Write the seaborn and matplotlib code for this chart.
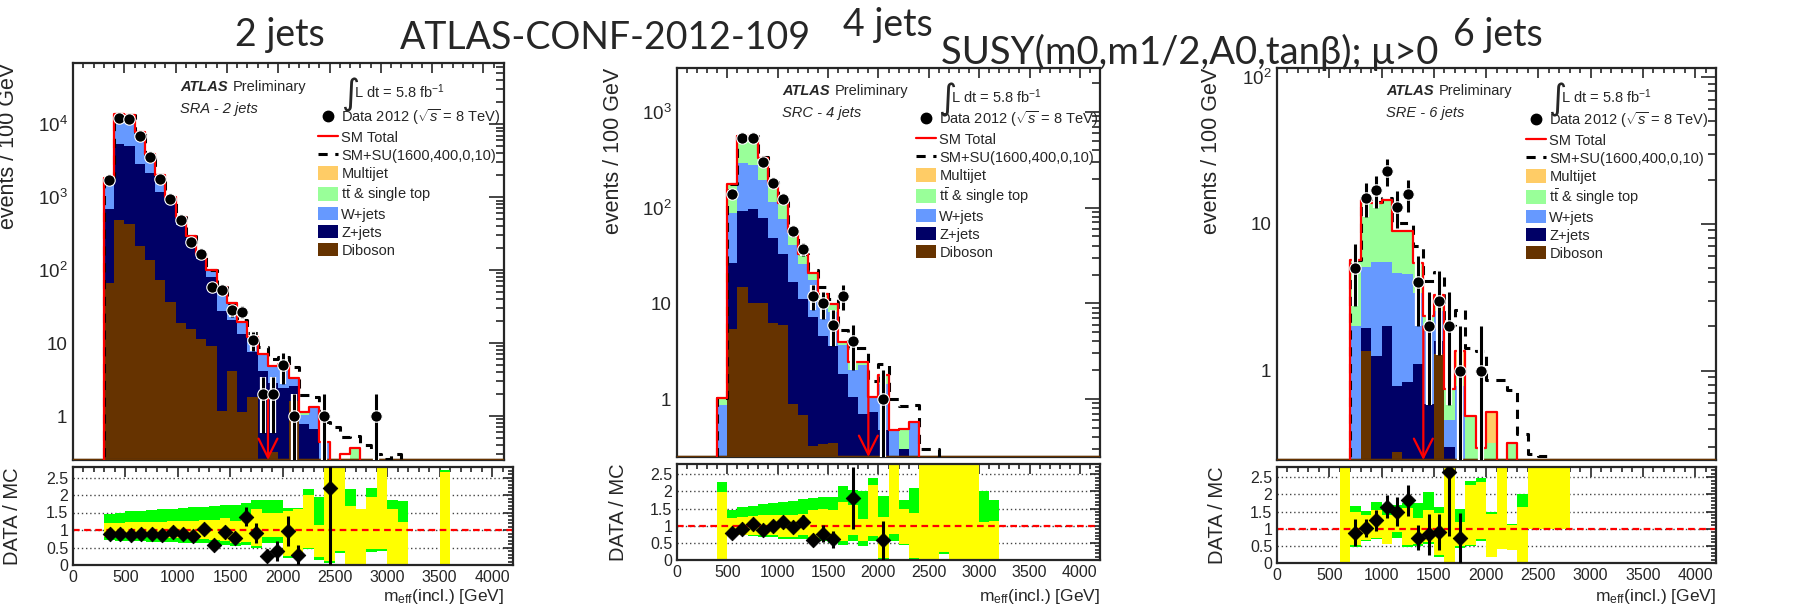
import numpy as np
import pandas as pd
import matplotlib
matplotlib.use("Agg")
import matplotlib.pyplot as plt
import seaborn as sns
from matplotlib.lines import Line2D
from matplotlib.patches import Patch
from matplotlib.ticker import MultipleLocator, LogLocator, NullFormatter, FuncFormatter

nan = np.nan
BIN = 100

# ---------------- data: SRA - 2 jets (bins start at 300 GeV) ----------------
p1_start = 300
p1_diboson = [67, 486, 430, 214, 137, 74, 37, 19, 15.8, 11.5, 9, 1.17, 4.2, 1.13, 1.8, 0, 0.32, 0, 1.6,
              0, 0, 0, 0, 0, 0, 0, 0, 0, 0, 0, 0, 0, 0]
p1_zjets = [623, 4884, 4670, 2636, 2033, 1116, 783, 394, 224, 132.5, 72, 26.8, 16.4, 12.4, 5.8, 4.2, 2.5, 2.4,
            0.95, 0.78, 0.67, 0, 0, 0, 0, 0, 0, 0, 0, 0, 0, 0, 0]
p1_wjets = [1000, 8080, 8050, 4700, 1650, 770, 160, 115, 44, 18, 16.5, 29.5, 13.4, 5.5, 4.3, 2.85, 1.9, 2.7,
            0.65, 0.24, 0.66, 0.44, 0, 0, 0, 0, 0, 0, 0, 0, 0, 0, 0]
p1_ttbar = [40, 250, 250, 150, 80, 40, 20, 12, 6, 4, 2.5, 1.5, 1, 0.5, 0.3, 0.15, 0.1, 0.1, 0.1, 0.12,
            0, 0, 0, 0, 0.37, 0, 0, 0, 0, 0, 0, 0, 0]
p1_multijet = [0] * 33
p1_total = [1820, 13700, 13400, 7700, 3900, 2000, 1000, 540, 290, 166, 100, 59, 35, 19.5, 12.2, 7.2, 4.8, 5.2,
            3.3, 1.13, 1.33, 0.44, 0.2, 0.3, 0.37, 0, 0, 0, 0, 0, 0, 0, 0]
p1_su = [1820, 13700, 13400, 7700, 3900, 2000, 1000, 540, 290, 166, 100, 59, 35, 20.5, 13.8, 8.9, 6.1, 6.5,
         4.7, 1.96, 1.8, 0.83, 0.7, 0.51, 0.54, 0.4, 0.3, 0.26, 0.3, 0, 0, 0, 0]
p1_data = [1740, 12300, 11800, 7000, 3500, 1760, 930, 490, 240, 166, 58, 53, 28, 27, 11, 2, 2, 5, 1,
           0, 0, 1, 0, 0, 0, 0, 1, 0, 0, 0, 0, 0, 0]
p1_ratio = [0.90, 0.90, 0.87, 0.88, 0.88, 0.87, 0.94, 0.90, 0.84, 1.04, 0.57, 0.93, 0.78, 1.38, 0.92, 0.26,
            0.41, 0.97, 0.29, nan, nan, 2.21] + [nan] * 11
p1_yel_lo = [0.80, 0.80, 0.79, 0.79, 0.79, 0.78, 0.78, 0.77, 0.76, 0.75, 0.72, 0.70, 0.64, 0.66, 0.55, 0.80,
             0.80, 0.25, 0.25, 0.50, 0.22, 0.12, 0.40, 0.00, 0.00, 0.45, 0.45, 0.00, 0.00, nan, nan, nan, 0.00]
p1_yel_hi = [1.20, 1.21, 1.22, 1.22, 1.23, 1.24, 1.25, 1.26, 1.27, 1.30, 1.30, 1.33, 1.25, 1.40, 1.60, 1.50,
             1.50, 1.55, 1.60, 2.00, 1.14, 2.80, 2.80, 1.70, 1.60, 1.93, 2.80, 1.60, 1.22, nan, nan, nan, 2.65]
p1_grn_lo = [0.72, 0.70, 0.69, 0.68, 0.67, 0.66, 0.65, 0.64, 0.63, 0.62, 0.58, 0.57, 0.55, 0.57, 0.50, 0.62,
             0.62, 0.20, 0.20, 0.47, 0.15, 0.05, 0.35, 0.00, 0.00, 0.38, 0.40, 0.00, 0.00, nan, nan, nan, 0.00]
p1_grn_hi = [1.45, 1.50, 1.53, 1.55, 1.57, 1.59, 1.61, 1.63, 1.65, 1.67, 1.68, 1.70, 1.72, 1.78, 1.85, 1.85,
             1.85, 1.62, 1.62, 2.17, 1.95, 2.80, 2.80, 2.17, 1.60, 2.20, 2.80, 1.85, 1.83, nan, nan, nan, 2.72]

# ---------------- data: SRC - 4 jets (bins start at 400 GeV) ----------------
p2_start = 400
p2_diboson = [0, 5.4, 14.8, 10.2, 10.2, 6.3, 5.9, 0.88, 0.675, 0.32, 0.34, 0.35] + [0] * 16
p2_zjets = [0, 21, 77, 87, 68.4, 42.2, 27.1, 15.8, 10.5, 6.9, 4.26, 3.23, 1.84, 1.05, 0.70, 0.73, 0.47, 0,
            0.30, 0] + [0] * 8
p2_wjets = [0.86, 61.6, 201, 184, 117, 65.5, 43.7, 23.7, 14.4, 10.5, 5.3, 4.52, 1.8, 0.97, 1.55, 0.32, 0.98,
            0.47, 0, 0.58] + [0] * 8
p2_ttbar = [0.17, 87, 264, 276, 137, 67, 35.3, 15.3, 6.9, 3.1, 2.7, 1.86, 0.3, 0.42, 0.19, 0, 0.32, 0,
            0.19, 0] + [0] * 8
p2_multijet = [0] * 28
p2_total = [1.03, 175, 557, 557, 333, 181, 112, 55.7, 32.5, 20.8, 12.6, 9.96, 3.94, 2.44, 2.44, 1.05, 1.77,
            0.47, 0.49, 0.58] + [0] * 8
p2_su = [1.03, 175, 560, 560, 340, 185, 115, 57, 33, 22.4, 14.8, 11.0, 5.3, 3.4, 3.4, 1.55, 2.3, 1.0, 0.85,
         0.87, 0.3, 0.3] + [0] * 6
p2_data = [0, 139, 531, 531, 302, 182, 123, 57, 37, 12, 10, 6, 12, 4, 0, 0, 1, 0] + [0] * 10
p2_ratio = [nan, 0.80, 0.90, 1.05, 0.88, 0.99, 1.10, 0.97, 1.12, 0.58, 0.77, 0.60, nan, 1.80, nan, nan,
            0.57] + [nan] * 11
p2_yel_lo = [0.00, 0.75, 0.74, 0.74, 0.73, 0.72, 0.68, 0.67, 0.72, 0.68, 0.65, 0.60, 0.55, 0.72, 0.55, 0.70,
             0.05, 0.75, 0.48, 0.05, 0.00, 0.00, 0.22, 0.00, 0.00, 0.00, 0.00, 0.00]
p2_yel_hi = [1.97, 1.22, 1.25, 1.27, 1.30, 1.30, 1.30, 1.32, 1.35, 1.45, 1.48, 1.45, 1.70, 1.60, 1.20, 2.20,
             1.25, 2.80, 1.50, 1.38, 2.80, 2.80, 2.80, 2.80, 2.80, 2.80, 1.10, 1.15]
p2_grn_lo = [0.00, 0.72, 0.72, 0.70, 0.68, 0.66, 0.60, 0.60, 0.62, 0.58, 0.55, 0.50, 0.45, 0.55, 0.42, 0.55,
             0.00, 0.55, 0.45, 0.00, 0.00, 0.00, 0.17, 0.00, 0.00, 0.00, 0.00, 0.00]
p2_grn_hi = [2.27, 1.47, 1.55, 1.58, 1.62, 1.65, 1.68, 1.72, 1.78, 1.82, 1.85, 1.83, 2.15, 2.05, 2.02, 2.40,
             1.88, 2.80, 1.75, 2.10, 2.80, 2.80, 2.80, 2.80, 2.80, 2.80, 2.00, 1.75]

# ---------------- data: SRE - 6 jets (bins start at 600 GeV) ----------------
p3_start = 600
p3_diboson = [0, 0, 1.35, 0, 0, 0.28, 0, 0, 0, 1.3] + [0] * 12
p3_zjets = [0, 0, 0.59, 1.25, 2.0, 0.51, 0.84, 1.11, 0.59, 0.30, 0.30] + [0] * 11
p3_wjets = [0, 2.0, 3.16, 4.25, 3.5, 3.81, 3.72, 2.26, 1.26, 0.96, 0.16, 0.78] + [0] * 10
p3_ttbar = [0, 3.7, 9.5, 8.3, 9.1, 4.3, 4.34, 2.03, 0.52, 0.72, 0.29, 0.18, 0.49, 0.295, 0.32, 0, 0.32] + [0] * 5
p3_multijet = [0] * 11 + [0.40, 0, 0, 0.205] + [0] * 7
p3_total = [0, 5.7, 14.6, 13.8, 14.6, 8.9, 8.9, 5.4, 2.37, 3.28, 0.75, 1.36, 0.49, 0.295, 0.525, 0.2,
            0.32, 0, 0, 0, 0, 0]
p3_su = [0, 5.7, 14.6, 14.0, 15.0, 10.1, 10.1, 7.0, 4.1, 4.66, 2.05, 2.6, 1.42, 1.35, 0.86, 0.86, 0.74,
         0.37, 0.27, 0.26, 0, 0]
p3_data = [0, 5, 15, 17, 23, 13, 16, 4, 2, 3, 2, 1, 0, 1] + [0] * 8
p3_ratio = [nan, 0.88, 1.03, 1.25, 1.64, 1.50, 1.83, 0.73, 0.84, 0.90, 2.66, 0.73] + [nan] * 10
p3_yel_lo = [0.00, 0.52, 0.68, 0.74, 0.55, 0.90, 0.52, 0.55, 0.60, 0.22, 0.00, 0.50, 0.52, 0.70, 0.18, 0.40,
             0.38, 0.00, 1.00, 1.00, 1.00, 1.00]
p3_yel_hi = [2.80, 1.50, 1.40, 1.55, 1.40, 1.53, 1.60, 1.30, 1.55, 1.45, 2.80, 1.20, 2.28, 2.35, 1.42, 2.80,
             1.12, 1.62, 2.80, 2.80, 2.80, 2.80]
p3_grn_lo = [0.00, 0.48, 0.65, 0.70, 0.55, 0.72, 0.48, 0.50, 0.55, 0.18, 0.00, 0.45, 0.50, 0.65, 0.18, 0.40,
             0.38, 0.00, 1.00, 1.00, 1.00, 1.00]
p3_grn_hi = [2.80, 1.67, 1.52, 1.77, 1.67, 1.70, 1.75, 1.75, 2.08, 1.62, 2.80, 1.57, 2.38, 2.48, 1.50, 2.80,
             1.14, 2.02, 2.80, 2.80, 2.80, 2.80]

cuts = [1900, 1900, 1400]
region_labels = ["SRA - 2 jets", "SRC - 4 jets", "SRE - 6 jets"]
process_names = ["Multijet", "t$\\bar{\\rm t}$ & single top", "W+jets", "Z+jets", "Diboson"]
legend_labels = ["Data 2012 ($\\sqrt{s}$ = 8 TeV)", "SM Total", "SM+SU(1600,400,0,10)"] + process_names
lumi_text = "L dt = 5.8 fb$^{-1}$"
titles = ["2 jets", "ATLAS-CONF-2012-109", "4 jets", "SUSY(m0,m1/2,A0,tan\u03b2); \u03bc>0", "6 jets"]

# ---------------- styling ----------------
sns.set_style("white")
plt.rcParams["font.family"] = ["Liberation Sans", "DejaVu Sans"]
plt.rcParams["mathtext.fontset"] = "custom"
plt.rcParams["mathtext.rm"] = "Liberation Sans"
plt.rcParams["mathtext.it"] = "Liberation Sans:italic"
plt.rcParams["mathtext.bf"] = "Liberation Sans:bold"
plt.rcParams["axes.linewidth"] = 1.5

colors = {"Multijet": "#ffcc66", process_names[1]: "#99ff99", "W+jets": "#6699ff",
          "Z+jets": "#000066", "Diboson": "#663300"}

W, H = 1802, 607
fig = plt.figure(figsize=(W / 100, H / 100), dpi=100)
fig.patch.set_facecolor("white")


def rect(l, t, r, b):
    return [l / W, 1 - b / H, (r - l) / W, (b - t) / H]


def fx(x):
    return x / W


def fy(y):
    return 1 - y / H


layout = [
    dict(main=(73, 63, 504, 460), ratio=(73, 467, 513, 565), ylim=(0.25, 6.9e4), xlab_right=504,
         atlas=(180, 87), sr=(180, 109), integ=(341, 92), leg=(318, 107)),
    dict(main=(677, 68, 1100, 457), ratio=(677, 464, 1100, 560), ylim=(0.248, 2880), xlab_right=1100,
         atlas=(782, 91), sr=(782, 113), integ=(938, 97), leg=(916, 109)),
    dict(main=(1277, 68, 1716, 460), ratio=(1277, 467, 1716, 563), ylim=(0.246, 115), xlab_right=1716,
         atlas=(1386, 91), sr=(1386, 113), integ=(1548, 97), leg=(1526, 110)),
]

panels = [
    (p1_start, [p1_multijet, p1_ttbar, p1_wjets, p1_zjets, p1_diboson], p1_total, p1_su, p1_data, p1_ratio,
     p1_yel_lo, p1_yel_hi, p1_grn_lo, p1_grn_hi),
    (p2_start, [p2_multijet, p2_ttbar, p2_wjets, p2_zjets, p2_diboson], p2_total, p2_su, p2_data, p2_ratio,
     p2_yel_lo, p2_yel_hi, p2_grn_lo, p2_grn_hi),
    (p3_start, [p3_multijet, p3_ttbar, p3_wjets, p3_zjets, p3_diboson], p3_total, p3_su, p3_data, p3_ratio,
     p3_yel_lo, p3_yel_hi, p3_grn_lo, p3_grn_hi),
]


def log_fmt(v, pos):
    if np.isclose(v, 1):
        return "1"
    if np.isclose(v, 10):
        return "10"
    return r"$10^{%d}$" % int(round(np.log10(v)))


for i, (start, comps, total, su, data, ratio, ylo, yhi, glo, ghi) in enumerate(panels):
    L = layout[i]
    ax = fig.add_axes(rect(*L["main"]))
    n = len(total)
    centers = start + BIN * np.arange(n) + BIN / 2
    edges = start + BIN * np.arange(n + 1)

    # stacked background histogram
    rows = []
    for name, vals in zip(process_names, comps):
        for c, v in zip(centers, vals):
            rows.append((name, float(c), float(v)))
    df = pd.DataFrame(rows, columns=["process", "meff", "events"])
    sns.histplot(data=df, x="meff", weights="events", hue="process", hue_order=process_names,
                 palette=colors, multiple="stack", binwidth=BIN, binrange=(0, 4200), element="bars",
                 linewidth=0, alpha=1, legend=False, ax=ax)

    # SM total and SM+SU outlines
    xs = np.r_[start, edges].astype(float)
    sns.lineplot(x=xs, y=np.r_[0, su, 0], drawstyle="steps-post", color="black", lw=2.2,
                 estimator=None, sort=False, ax=ax, zorder=4)
    ax.lines[-1].set_dashes((3, 2.5))
    sns.lineplot(x=xs, y=np.r_[0, total, 0], drawstyle="steps-post", color="red", lw=1.6,
                 estimator=None, sort=False, ax=ax, zorder=5)

    ax.set_yscale("log")
    ax.set_xlim(0, 4200)
    ax.set_ylim(*L["ylim"])
    ax.axhline(L["ylim"][0], color=colors["Diboson"], lw=2.5, zorder=3)

    # cut arrow
    ax.annotate("", xy=(cuts[i], L["ylim"][0]), xytext=(cuts[i], 2.0),
                arrowprops=dict(arrowstyle="->", color="red", lw=1.6, mutation_scale=34,
                                shrinkA=0, shrinkB=0), zorder=6)

    # data
    d = np.asarray(data, float)
    m = d > 0
    dc, dv = centers[m], d[m]
    err = np.sqrt(dv)
    ax.errorbar(dc, dv, yerr=err, fmt="none", ecolor="white", elinewidth=4.5, capsize=0, zorder=7)
    ax.errorbar(dc, dv, yerr=err, fmt="none", ecolor="black", elinewidth=2.2, capsize=0, zorder=8)
    sns.scatterplot(x=dc, y=dv, color="black", s=68, edgecolor="white", linewidth=0.8, ax=ax, zorder=9)

    ax.set_xlabel("")
    ax.set_ylabel("events / 100 GeV", fontsize=15.5, loc="top")
    ax.yaxis.set_label_coords(-0.125, 1.0)
    ax.xaxis.set_major_locator(MultipleLocator(500))
    ax.xaxis.set_minor_locator(MultipleLocator(100))
    ax.xaxis.set_major_formatter(NullFormatter())
    ax.yaxis.set_major_locator(LogLocator(base=10, numticks=15))
    ax.yaxis.set_minor_locator(LogLocator(base=10, subs=np.arange(2, 10), numticks=15))
    ax.yaxis.set_major_formatter(FuncFormatter(log_fmt))
    ax.yaxis.set_minor_formatter(NullFormatter())
    ax.tick_params(which="both", direction="in", top=True, right=True, width=1.2)
    ax.xaxis.set_tick_params(which="major", length=7)
    ax.xaxis.set_tick_params(which="minor", length=3.5)
    ax.yaxis.set_tick_params(which="major", length=11, labelsize=13.5, pad=4)
    ax.yaxis.set_tick_params(which="minor", length=5.5)
    for s in ax.spines.values():
        s.set_linewidth(1.6)

    # legend
    handles = [Line2D([], [], marker="o", color="black", ls="none", ms=7.5),
               Line2D([], [], color="red", lw=1.6),
               Line2D([], [], color="black", lw=2.2, ls=(0, (3, 2.5)))] + \
              [Patch(facecolor=colors[p], edgecolor="none") for p in process_names]
    leg = ax.legend(handles, legend_labels, loc="upper left", bbox_to_anchor=(fx(L["leg"][0]), fy(L["leg"][1])),
                    bbox_transform=fig.transFigure, frameon=False, fontsize=10.5, handlelength=1.35,
                    handleheight=1.05, handletextpad=0.25, labelspacing=0.22, borderpad=0, borderaxespad=0)
    leg.set_zorder(20)

    # ATLAS label etc.
    fig.text(fx(L["atlas"][0]), fy(L["atlas"][1]), "ATLAS", fontsize=10.5, weight="bold",
             style="italic", va="center", ha="left")
    fig.text(fx(L["atlas"][0] + 53), fy(L["atlas"][1]), "Preliminary", fontsize=10.5, va="center", ha="left")
    fig.text(fx(L["sr"][0]), fy(L["sr"][1]), region_labels[i], fontsize=10.5, style="italic", va="center",
             ha="left")
    fig.text(fx(L["integ"][0]), fy(L["integ"][1] + 3), "\u222b", fontsize=25, va="center", ha="left",
             family="DejaVu Sans")
    fig.text(fx(L["integ"][0] + 13), fy(L["integ"][1]), lumi_text, fontsize=10.5, va="center", ha="left")

    # ratio panel
    ar = fig.add_axes(rect(*L["ratio"]))
    nr = len(ylo)
    rc = start + BIN * np.arange(nr) + BIN / 2
    glo_a, ghi_a = np.asarray(glo, float), np.asarray(ghi, float)
    ylo_a, yhi_a = np.asarray(ylo, float), np.asarray(yhi, float)
    ar.bar(rc, ghi_a - glo_a, bottom=glo_a, width=BIN, color="#00ff00", lw=0, zorder=1)
    ar.bar(rc, yhi_a - ylo_a, bottom=ylo_a, width=BIN, color="#ffff00", lw=0, zorder=1.5)
    ar.axhline(1.0, color="red", lw=1.6, ls=(0, (3, 2)), zorder=2)
    r = np.asarray(ratio, float)
    dr = np.zeros(nr)
    dr[:min(nr, len(data))] = np.asarray(data, float)[:nr]
    mr = np.isfinite(r) & (dr > 0)
    rx, ry, nd = rc[mr], r[mr], dr[mr]
    ar.errorbar(rx, ry, yerr=ry / np.sqrt(nd), xerr=BIN / 2, fmt="none", ecolor="black", elinewidth=2.2,
                capsize=0, zorder=4)
    sns.scatterplot(x=rx, y=ry, marker="D", color="black", s=55, edgecolor="black", ax=ar, zorder=5)
    ar.set_xlim(0, 4200)
    ar.set_ylim(0, 2.8)
    ar.set_axisbelow(True)
    ar.yaxis.set_major_locator(MultipleLocator(0.5))
    ar.yaxis.set_minor_locator(MultipleLocator(0.1))
    ar.xaxis.set_major_locator(MultipleLocator(500))
    ar.xaxis.set_minor_locator(MultipleLocator(100))
    ar.yaxis.set_major_formatter(FuncFormatter(lambda v, p: "%g" % v))
    ar.xaxis.set_major_formatter(FuncFormatter(lambda v, p: "%g" % v))
    ar.grid(axis="y", which="major", ls=(0, (1, 2)), color="#444444", lw=1)
    ar.tick_params(which="both", direction="in", top=True, right=True, width=1.2, labelsize=11.5)
    ar.tick_params(which="major", length=7)
    ar.tick_params(which="minor", length=3.5)
    for s in ar.spines.values():
        s.set_linewidth(1.6)
    ar.set_ylabel("DATA / MC", fontsize=14.5)
    ar.yaxis.set_label_coords(-0.115, 0.5)
    ar.set_xlabel("")
    fig.text(fx(L["xlab_right"]), fy(597), "m$_{\\rm eff}$(incl.) [GeV]", fontsize=12.5, ha="right",
             va="center")

# slide titles
title_font = "Lato"
fig.text(fx(280), fy(46), titles[0], fontsize=27, family=title_font, va="baseline", ha="center")
fig.text(fx(400), fy(49), titles[1], fontsize=27, family=title_font, va="baseline", ha="left")
fig.text(fx(888), fy(36), titles[2], fontsize=27, family=title_font, va="baseline", ha="center")
fig.text(fx(941), fy(64), titles[3], fontsize=27.5, family=title_font, va="baseline", ha="left")
fig.text(fx(1498), fy(46), titles[4], fontsize=27, family=title_font, va="baseline", ha="center")

fig.savefig("out.png", dpi=100, facecolor="white")
